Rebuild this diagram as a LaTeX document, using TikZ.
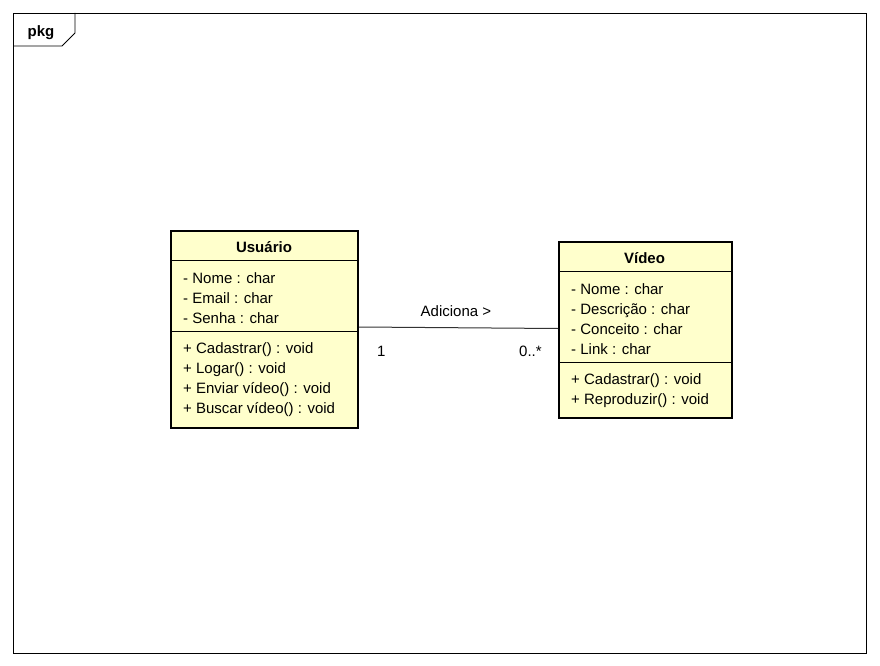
\documentclass[tikz,border=0pt]{standalone}
\usepackage{fontspec}
\setmainfont{Liberation Sans}
\definecolor{umlfill}{HTML}{FFFFCC}
\definecolor{linegray}{HTML}{333333}
\begin{document}
\begin{tikzpicture}[x=1pt,y=-1pt,
  txt/.style={inner sep=0pt,anchor=base west,font=\fontsize{15}{18}\selectfont},
  ttl/.style={inner sep=0pt,anchor=base,font=\fontsize{15}{18}\selectfont\bfseries},
  classbox/.style={draw=black,line width=2pt,fill=umlfill,inner sep=0pt,anchor=north west},
  sep/.style={line width=1pt,draw=black},
  assoc/.style={line width=1pt,draw=linegray}]
\useasboundingbox (0,0) rectangle (880,666);
\fill[white] (0,0) rectangle (880,666);
% frame
\draw[line width=0.8pt] (13,13) rectangle (866,653);
\draw[line width=0.8pt] (13,46) -- (62,46) -- (75,33) -- (75,13);
\node[ttl] (pkg) at (41,37) {pkg};
% Usuario
\node[classbox,minimum width=187pt,minimum height=197pt] (usr) at (170,229.5) {};
\draw[sep] (170,260) -- (357,260);
\draw[sep] (170,331) -- (357,331);
\node[ttl] (usrt) at (264,252) {Usuário};
\node[txt] (u1) at (183,283) {- Nome : char};
\node[txt] (u2) at (183,303) {- Email : char};
\node[txt] (u3) at (183,323) {- Senha : char};
\node[txt] (u4) at (183,353) {+ Cadastrar() : void};
\node[txt] (u5) at (183,373) {+ Logar() : void};
\node[txt] (u6) at (183,393) {+ Enviar vídeo() : void};
\node[txt] (u7) at (183,413) {+ Buscar vídeo() : void};
% Video
\node[classbox,minimum width=173pt,minimum height=176pt] (vid) at (558,241) {};
\draw[sep] (558,271) -- (731,271);
\draw[sep] (558,362) -- (731,362);
\node[ttl] (vidt) at (644.5,263) {Vídeo};
\node[txt] (v1) at (571,294) {- Nome : char};
\node[txt] (v2) at (571,314) {- Descrição : char};
\node[txt] (v3) at (571,334) {- Conceito : char};
\node[txt] (v4) at (571,354) {- Link : char};
\node[txt] (v5) at (571,384) {+ Cadastrar() : void};
\node[txt] (v6) at (571,404) {+ Reproduzir() : void};
% association
\coordinate (a1) at (usr.east |- 0,327);
\coordinate (a2) at (vid.west |- 0,328.5);
\draw[assoc] (a1) -- (a2);
\node[txt] (lab) at (420.5,316) {Adiciona >};
\node[txt] (m1) at (377,356) {1};
\node[txt] (m2) at (519,356) {0..*};
\end{tikzpicture}
\end{document}
